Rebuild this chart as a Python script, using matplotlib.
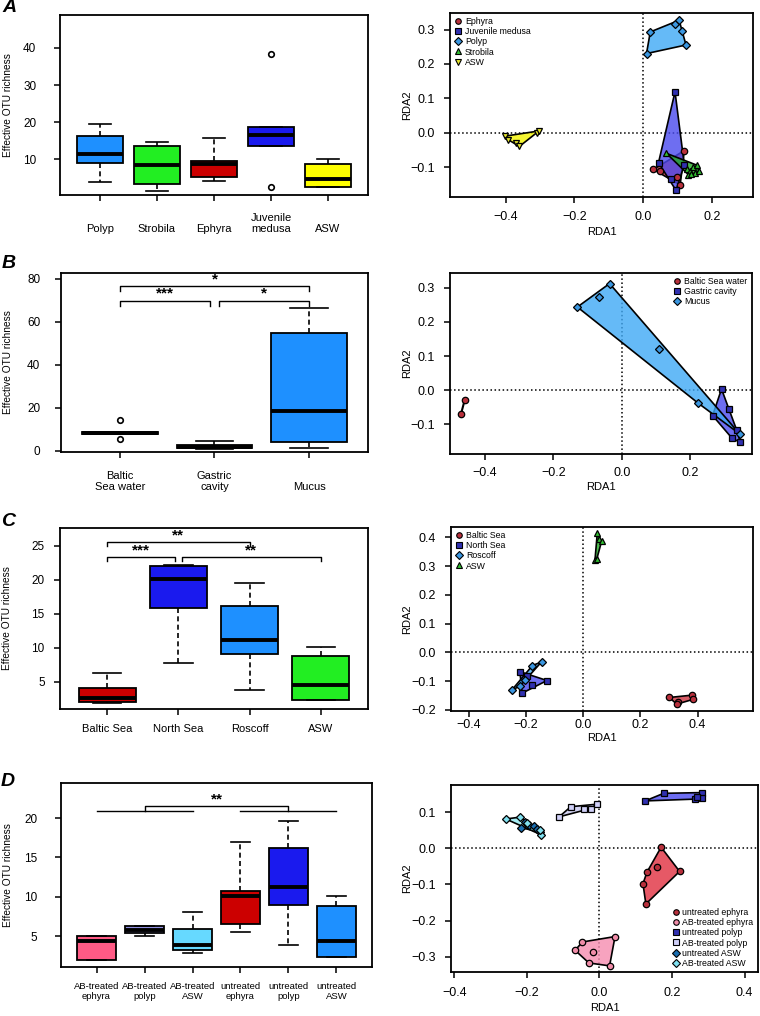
import numpy as np
import matplotlib
matplotlib.use('Agg')
import matplotlib.pyplot as plt
from matplotlib.lines import Line2D
from matplotlib.patches import Polygon
from matplotlib.colors import to_rgba

plt.rcParams['font.family'] = ['Liberation Sans', 'DejaVu Sans']

W, H = 760, 1016

# ---------------- panel A
a_groups = ['Polyp', 'Strobila', 'Ephyra', 'Juvenile\nmedusa', 'ASW']
a_colors = ['#1E90FF', '#22EE22', '#CC0000', '#1A1AEE', '#FFFF00']
a_whislo = [3.8, 1.4, 4.2, 13.5, 2.4]
a_q1 = [8.9, 3.4, 5.2, 13.5, 2.4]
a_med = [11.3, 8.4, 8.6, 16.6, 4.5]
a_q3 = [16.3, 13.4, 9.5, 18.7, 8.7]
a_whishi = [19.5, 14.7, 15.6, 18.7, 10.1]
a_fliers = [[], [], [], [38.5, 2.4], []]

a_rda_names = ['Ephyra', 'Juvenile medusa', 'Polyp', 'Strobila', 'ASW']
a_rda_x = [
    [0.030, 0.048, 0.120, 0.098, 0.108],
    [0.093, 0.045, 0.120, 0.082, 0.096],
    [0.010, 0.021, 0.093, 0.105, 0.112, 0.125],
    [0.068, 0.127, 0.137, 0.145, 0.150, 0.158, 0.162, 0.132, 0.140],
    [-0.402, -0.393, -0.370, -0.360, -0.310, -0.303],
]
a_rda_y = [
    [-0.107, -0.112, -0.052, -0.130, -0.152],
    [0.119, -0.087, -0.093, -0.134, -0.168],
    [0.230, 0.293, 0.317, 0.327, 0.296, 0.255],
    [-0.060, -0.105, -0.112, -0.100, -0.118, -0.095, -0.112, -0.122, -0.120],
    [-0.010, -0.020, -0.030, -0.040, 0.000, 0.005],
]

# ---------------- panel B
b_groups = ['Baltic\nSea water', 'Gastric\ncavity', 'Mucus']
b_colors = ['#CC0000', '#1A1AEE', '#1E90FF']
b_whislo = [8.0, 1.0, 1.2]
b_q1 = [8.0, 1.3, 4.0]
b_med = [8.5, 2.0, 18.6]
b_q3 = [8.9, 2.7, 54.7]
b_whishi = [8.9, 4.6, 66.4]
b_fliers = [[14.4, 5.6], [], []]

b_rda_names = ['Baltic Sea water', 'Gastric cavity', 'Mucus']
b_rda_x = [
    [-0.470, -0.459],
    [0.291, 0.312, 0.265, 0.322, 0.346, 0.335],
    [-0.130, -0.068, -0.036, 0.107, 0.222, 0.344],
]
b_rda_y = [
    [-0.071, -0.029],
    [0.003, -0.057, -0.075, -0.142, -0.154, -0.117],
    [0.244, 0.274, 0.313, 0.120, -0.038, -0.129],
]

# ---------------- panel C
c_groups = ['Baltic Sea', 'North Sea', 'Roscoff', 'ASW']
c_colors = ['#CC0000', '#1A1AEE', '#1E90FF', '#22EE22']
c_whislo = [1.8, 7.7, 3.8, 2.35]
c_q1 = [2.0, 15.9, 9.0, 2.35]
c_med = [2.6, 20.1, 11.2, 4.5]
c_q3 = [4.0, 22.0, 16.2, 8.8]
c_whishi = [6.3, 22.2, 19.5, 10.1]
c_fliers = [[], [], [], []]

c_rda_names = ['Baltic Sea', 'North Sea', 'Roscoff', 'ASW']
c_rda_x = [
    [0.301, 0.333, 0.327, 0.379, 0.383],
    [-0.222, -0.198, -0.180, -0.127, -0.214],
    [-0.146, -0.178, -0.250, -0.222, -0.205],
    [0.049, 0.056, 0.064, 0.041, 0.047],
]
c_rda_y = [
    [-0.157, -0.172, -0.180, -0.149, -0.164],
    [-0.067, -0.082, -0.114, -0.098, -0.142],
    [-0.033, -0.046, -0.131, -0.118, -0.095],
    [0.415, 0.394, 0.386, 0.322, 0.324],
]

# ---------------- panel D
d_groups = ['AB-treated\nephyra', 'AB-treated\npolyp', 'AB-treated\nASW',
            'untreated\nephyra', 'untreated\npolyp', 'untreated\nASW']
d_colors = ['#FF5A85', '#9090E0', '#66D9FF', '#CC0000', '#1A1AEE', '#1E90FF']
d_whislo = [1.9, 5.04, 2.84, 5.47, 3.81, 2.33]
d_q1 = [1.9, 5.38, 3.2, 6.57, 8.9, 2.33]
d_med = [4.4, 5.8, 3.8, 10.04, 11.23, 4.36]
d_q3 = [4.96, 6.23, 5.93, 10.76, 16.14, 8.77]
d_whishi = [4.96, 6.23, 8.05, 16.95, 19.58, 10.04]
d_fliers = [[], [], [], [], [], []]

d_rda_names = ['untreated ephyra', 'AB-treated ephyra', 'untreated polyp',
               'AB-treated polyp', 'untreated ASW', 'AB-treated ASW']
d_rda_x = [
    [0.170, 0.160, 0.221, 0.131, 0.120, 0.128],
    [0.043, -0.047, -0.067, -0.019, -0.029, 0.028],
    [0.126, 0.177, 0.264, 0.282, 0.282, 0.269],
    [-0.111, -0.079, -0.042, -0.024, -0.006],
    [-0.215, -0.195, -0.180, -0.165, -0.172, -0.205],
    [-0.258, -0.220, -0.200, -0.162, -0.165],
]
d_rda_y = [
    [0.003, -0.051, -0.064, -0.066, -0.098, -0.154],
    [-0.244, -0.259, -0.282, -0.287, -0.317, -0.325],
    [0.131, 0.152, 0.136, 0.154, 0.138, 0.143],
    [0.087, 0.115, 0.110, 0.110, 0.122],
    [0.057, 0.065, 0.062, 0.045, 0.052, 0.072],
    [0.081, 0.086, 0.070, 0.038, 0.050],
]


fig = plt.figure(figsize=(W / 100, H / 100), dpi=100)


def add_ax(box):
    l, t, r, b = box
    ax = fig.add_axes([l / W, 1 - b / H, (r - l) / W, (b - t) / H])
    for s in ax.spines.values():
        s.set_linewidth(1.3)
    return ax


def hull(xs, ys):
    pts = sorted(set(zip(xs, ys)))
    if len(pts) < 3:
        return pts
    def cross(o, a, b):
        return (a[0] - o[0]) * (b[1] - o[1]) - (a[1] - o[1]) * (b[0] - o[0])
    lower = []
    for p in pts:
        while len(lower) >= 2 and cross(lower[-2], lower[-1], p) <= 0:
            lower.pop()
        lower.append(p)
    upper = []
    for p in reversed(pts):
        while len(upper) >= 2 and cross(upper[-2], upper[-1], p) <= 0:
            upper.pop()
        upper.append(p)
    return lower[:-1] + upper[:-1]


def boxpanel(box, groups, cols, lo, q1, med, q3, hi, fliers, ylim, yticks,
             ypad, lab_base, ylab_x, lab_fs=8):
    ax = add_ax(box)
    n = len(groups)
    stats = [dict(whislo=lo[i], q1=q1[i], med=med[i], q3=q3[i], whishi=hi[i],
                  fliers=fliers[i]) for i in range(n)]
    pos = np.arange(1, n + 1)
    bp = ax.bxp(stats, positions=pos, widths=0.8, capwidths=0.4,
                patch_artist=True, showfliers=True,
                boxprops=dict(lw=1.3, edgecolor='black'),
                medianprops=dict(color='black', lw=2.8, solid_capstyle='butt'),
                whiskerprops=dict(lw=1.2, ls=(0, (3, 2))),
                capprops=dict(lw=1.2),
                flierprops=dict(marker='o', mfc='none', mec='black', ms=4, mew=1.2))
    for p, c in zip(bp['boxes'], cols):
        p.set_facecolor(c)
    ax.set_xlim(0.5 - 0.04 * n, n + 0.5 + 0.04 * n)
    ax.set_ylim(ylim)
    ax.set_yticks(yticks)
    ax.set_xticks(pos)
    ax.set_xticklabels([])
    ax.tick_params(axis='y', direction='out', length=4, width=1.1, labelsize=8.5, pad=ypad)
    ax.tick_params(axis='x', direction='out', length=4, width=1.1)
    for i, g in enumerate(groups):
        ax.annotate(g, xy=(pos[i], 0), xycoords=('data', 'axes fraction'),
                    xytext=(0, -lab_base * 0.72), textcoords='offset points',
                    ha='center', va='baseline', fontsize=lab_fs, linespacing=1.15)
    ax.set_ylabel('Effective OTU richness', fontsize=7.3)
    ax.yaxis.label.set_va('center')
    ax.yaxis.set_label_coords((ylab_x - box[0]) / (box[2] - box[0]), 0.5)
    return ax


def bracket(ax, x1, x2, y, drop, txt=None):
    ax.plot([x1, x1, x2, x2], [y - drop, y, y, y - drop], color='black', lw=1)
    if txt:
        ax.annotate(txt, xy=((x1 + x2) / 2, y), xytext=(0, 0), textcoords='offset points',
                    ha='center', va='bottom', fontsize=11, fontweight='bold')


def rdapanel(box, names, xs, ys, markers, mfcs, fills, xlim, ylim, xticks, yticks,
             legloc, xlab_below, ylab_x, xpad, lfs=6.3):
    ax = add_ax(box)
    for i in range(len(names)):
        hp = hull(xs[i], ys[i])
        if len(hp) >= 3:
            ax.add_patch(Polygon(hp, closed=True, fc=to_rgba(fills[i], 0.8),
                                 ec='black', lw=1.2, zorder=2))
        else:
            ax.plot([p[0] for p in hp], [p[1] for p in hp], color='black', lw=1.5, zorder=2)
    ax.axhline(0, color='black', ls=':', lw=1.1, zorder=1)
    ax.axvline(0, color='black', ls=':', lw=1.1, zorder=1)
    for i in range(len(names)):
        ax.plot(xs[i], ys[i], ls='none', marker=markers[i], mfc=mfcs[i], mec='black',
                ms=4.6 if markers[i] != 'D' else 4, mew=0.9, zorder=3)
    ax.set_xlim(xlim)
    ax.set_ylim(ylim)
    ax.set_xticks(xticks)
    ax.set_yticks(yticks)
    ax.tick_params(direction='out', length=4, width=1.1, labelsize=9)
    ax.tick_params(axis='y', pad=7)
    ax.tick_params(axis='x', pad=xpad)
    handles = [Line2D([], [], ls='none', marker=markers[i], mfc=mfcs[i], mec='black',
                      ms=4 if markers[i] != 'D' else 3.6, mew=0.8) for i in range(len(names))]
    ax.legend(handles, names, loc=legloc, frameon=False, fontsize=lfs, handlelength=0.8,
              handletextpad=0.4, labelspacing=0.12, borderaxespad=0.3, borderpad=0.2)
    ax.set_xlabel('RDA1', fontsize=8)
    ax.set_ylabel('RDA2', fontsize=8)
    ax.xaxis.label.set_va('center')
    ax.yaxis.label.set_va('center')
    h = box[3] - box[1]
    ax.xaxis.set_label_coords(0.5, -xlab_below / h)
    ax.yaxis.set_label_coords((ylab_x - box[0]) / (box[2] - box[0]), 0.5)
    return ax


# ---- row A
boxpanel((60, 15, 368, 195), a_groups, a_colors, a_whislo, a_q1, a_med, a_q3, a_whishi,
         a_fliers, (0.3, 48.9), [10, 20, 30, 40], 13, 37, 8)
rdapanel((450, 13, 753, 197), a_rda_names, a_rda_x, a_rda_y,
         ['o', 's', 'D', '^', 'v'],
         ['#B8303C', '#3030B0', '#3A96E0', '#30C030', '#E8E830'],
         ['#CC3340', '#4A4AEE', '#3FA9F5', '#22AA22', '#F2F200'],
         (-0.562, 0.320), (-0.187, 0.348), [-0.4, -0.2, 0.0, 0.2],
         [-0.1, 0.0, 0.1, 0.2, 0.3], 'upper left', 35, 407, 6)

# ---- row B
axb = boxpanel((61, 273, 368, 452), b_groups, b_colors, b_whislo, b_q1, b_med, b_q3, b_whishi,
               b_fliers, (-0.5, 82.6), [0, 20, 40, 60, 80], 11, 38, 8)
bracket(axb, 1, 3, 76.4, 2.3, '*')
bracket(axb, 1, 1.955, 69.8, 2.4, '***')
bracket(axb, 2.05, 3, 69.8, 2.4, '*')
rdapanel((450, 273, 752, 454), b_rda_names, b_rda_x, b_rda_y,
         ['o', 's', 'D'],
         ['#B8303C', '#3030B0', '#3A96E0'],
         ['#CC3340', '#4A4AEE', '#3FA9F5'],
         (-0.502, 0.380), (-0.188, 0.344), [-0.4, -0.2, 0.0, 0.2],
         [-0.1, 0.0, 0.1, 0.2, 0.3], 'upper right', 33, 407, 5)

# ---- row C
axc = boxpanel((60, 528, 368, 709), c_groups, c_colors, c_whislo, c_q1, c_med, c_q3, c_whishi,
               c_fliers, (0.98, 27.6), [5, 10, 15, 20, 25], 7, 23, 7)
bracket(axc, 1, 3, 25.5, 0.6, '**')
bracket(axc, 1, 1.955, 23.3, 0.6, '***')
bracket(axc, 2.05, 4, 23.3, 0.6, '**')
rdapanel((451, 527, 753, 711), c_rda_names, c_rda_x, c_rda_y,
         ['o', 's', 'D', '^'],
         ['#B8303C', '#3030B0', '#3A96E0', '#30C030'],
         ['#CC3340', '#4A4AEE', '#3FA9F5', '#22AA22'],
         (-0.463, 0.594), (-0.204, 0.436), [-0.4, -0.2, 0.0, 0.2, 0.4],
         [-0.2, -0.1, 0.0, 0.1, 0.2, 0.3, 0.4], 'upper left', 27, 407, 2)

# ---- row D
axd = boxpanel((61, 783, 372, 967), d_groups, d_colors, d_whislo, d_q1, d_med, d_q3, d_whishi,
               d_fliers, (1.06, 24.45), [5, 10, 15, 20], 13, 32, 8, lab_fs=6.8)
axd.plot([1, 3], [20.89, 20.89], color='black', lw=1)
axd.plot([4, 6], [20.89, 20.89], color='black', lw=1)
bracket(axd, 2, 5, 21.5, 0.61, '**')
rdapanel((451, 785, 758, 972), d_rda_names, d_rda_x, d_rda_y,
         ['o', 'o', 's', 's', 'D', 'D'],
         ['#B8303C', '#F08CA8', '#3030B0', '#D0D0F8', '#1A6EB0', '#80E0F0'],
         ['#E03040', '#F58CB0', '#4A4AEE', '#C8C8F0', '#2C80C8', '#90E8F0'],
         (-0.409, 0.437), (-0.342, 0.175), [-0.4, -0.2, 0.0, 0.2, 0.4],
         [-0.3, -0.2, -0.1, 0.0, 0.1], 'lower right', 36, 407, 7)

# panel letters
for lt, x, y in [('A', 9, 8), ('B', 9, 264), ('C', 8, 522), ('D', 8, 782)]:
    fig.text(x / W, 1 - y / H, lt, fontsize=14, fontweight='bold', fontstyle='italic',
             ha='center', va='center')

fig.savefig('out.png', dpi=100)
